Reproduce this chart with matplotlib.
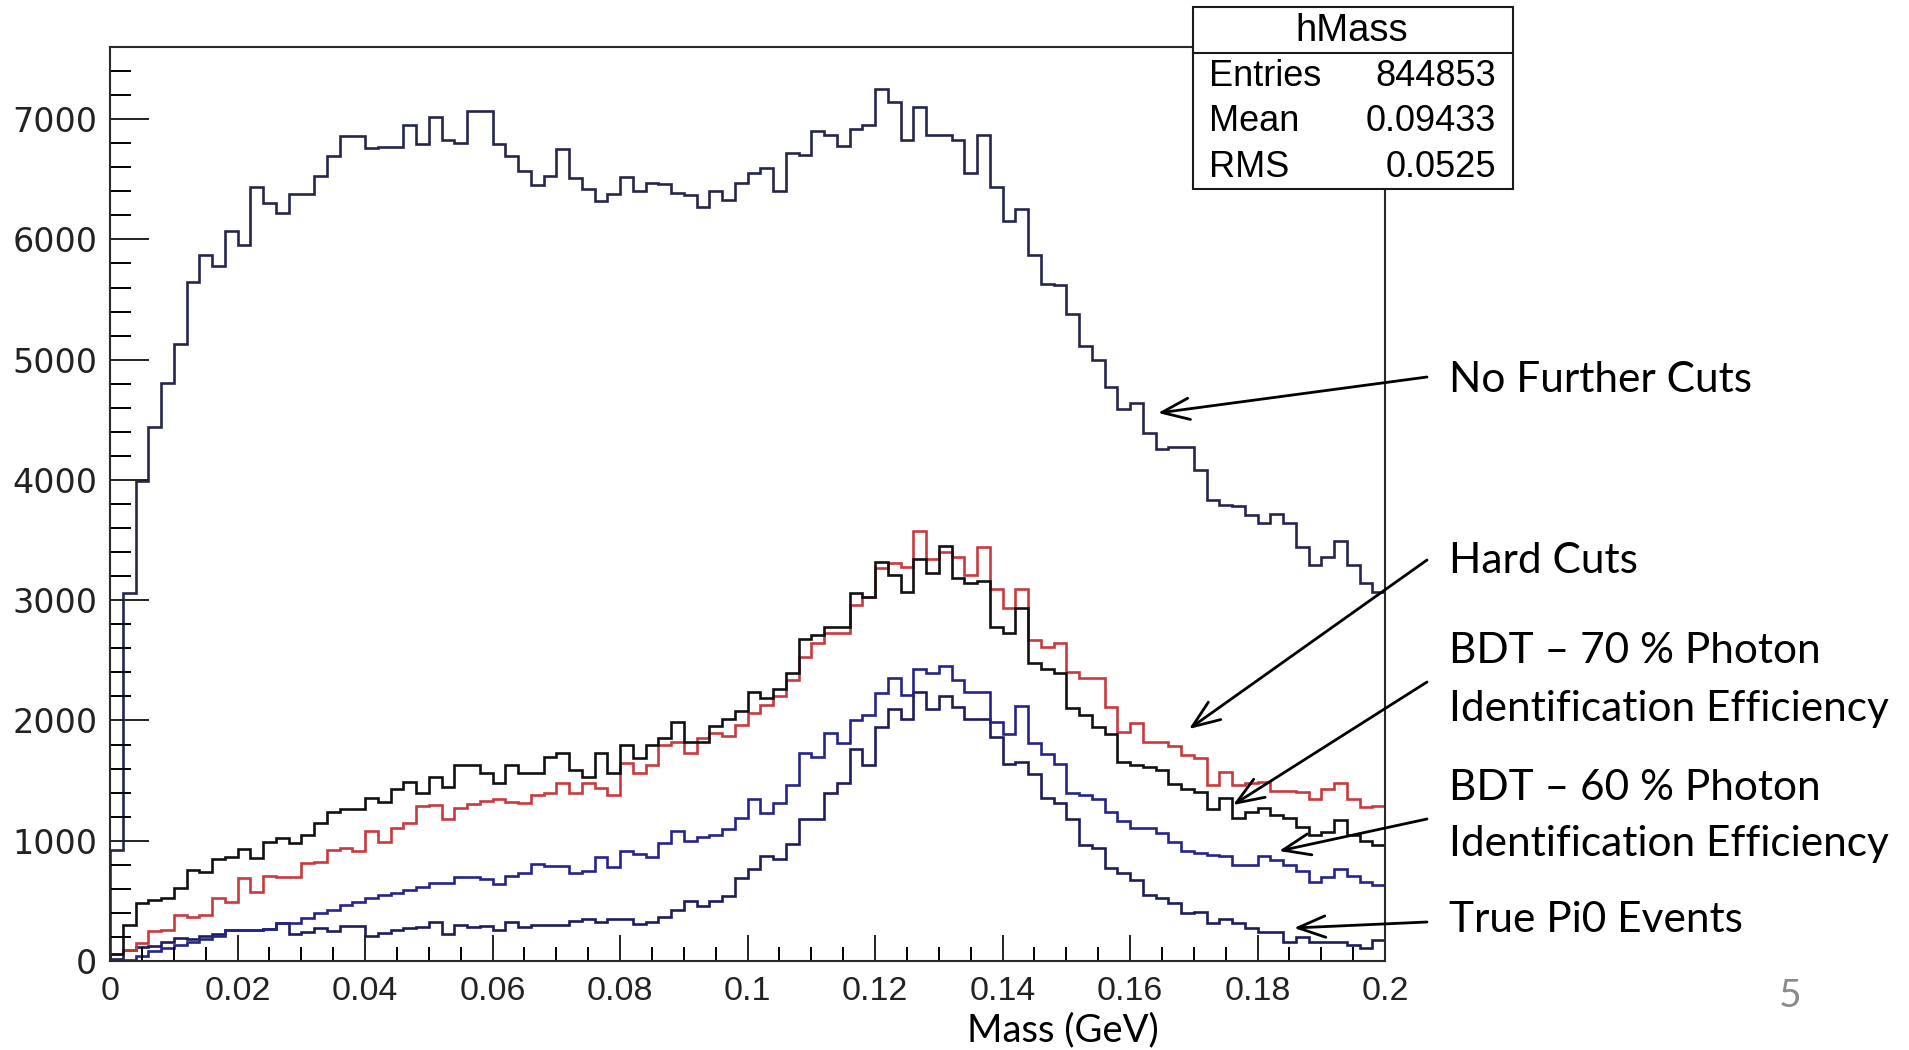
import numpy as np
import matplotlib.pyplot as plt
from matplotlib.patches import Rectangle
from matplotlib.lines import Line2D
from matplotlib.ticker import MultipleLocator

W, H = 1909, 1050

# 100 bins from 0 to 0.2 GeV
mass_edges = np.linspace(0.0, 0.2, 101)

no_cuts = [920, 3060, 3990, 4440, 4810, 5130, 5650, 5870, 5780, 6070,
           5950, 6440, 6300, 6220, 6380, 6380, 6530, 6690, 6860, 6860,
           6760, 6770, 6770, 6950, 6790, 7020, 6830, 6800, 7070, 7070,
           6790, 6690, 6570, 6450, 6525, 6750, 6510, 6420, 6320, 6380,
           6520, 6400, 6470, 6460, 6390, 6370, 6270, 6400, 6330, 6470,
           6550, 6590, 6400, 6720, 6700, 6900, 6870, 6780, 6920, 6950,
           7250, 7140, 6830, 7100, 6870, 6870, 6830, 6550, 6870, 6440,
           6150, 6250, 5870, 5630, 5620, 5380, 5110, 5000, 4770, 4590,
           4640, 4390, 4260, 4270, 4270, 4080, 3830, 3790, 3780, 3710,
           3640, 3720, 3640, 3440, 3290, 3360, 3490, 3290, 3140, 3070]

hard_cuts = [55, 95, 150, 250, 255, 382, 369, 382, 525, 490,
             690, 575, 705, 696, 696, 817, 826, 923, 937, 914,
             1083, 992, 1103, 1144, 1289, 1297, 1178, 1269, 1305, 1333,
             1344, 1325, 1311, 1380, 1394, 1477, 1394, 1477, 1435, 1380,
             1643, 1560, 1629, 1796, 1823, 1726, 1851, 1893, 1870, 1962,
             2059, 2128, 2203, 2336, 2530, 2641, 2724, 2724, 2959, 3029,
             3264, 3306, 3273, 3577, 3339, 3403, 3356, 3209, 3439, 3090,
             2932, 3090, 2668, 2613, 2641, 2405, 2350, 2350, 2109, 1906,
             1976, 1823, 1823, 1787, 1712, 1685, 1463, 1574, 1463, 1482,
             1491, 1416, 1416, 1408, 1344, 1427, 1477, 1344, 1277, 1289]

bdt_70 = [60, 299, 479, 505, 521, 605, 760, 743, 845, 867,
          928, 859, 992, 1025, 978, 1047, 1144, 1241, 1261, 1261,
          1358, 1325, 1427, 1491, 1394, 1532, 1449, 1629, 1629, 1560,
          1477, 1629, 1560, 1560, 1699, 1726, 1588, 1532, 1726, 1560,
          1796, 1685, 1796, 1851, 1990, 1823, 1823, 1954, 2009, 2081,
          2239, 2184, 2258, 2391, 2674, 2710, 2774, 2774, 3056, 3023,
          3320, 3209, 3070, 3339, 3223, 3450, 3181, 3140, 3162, 2779,
          2724, 2932, 2474, 2425, 2391, 2100, 2045, 1948, 1887, 1657,
          1629, 1610, 1588, 1471, 1427, 1408, 1261, 1352, 1186, 1241,
          1269, 1214, 1186, 1117, 1047, 1075, 1172, 1047, 1000, 964]

bdt_60 = [5, 12, 45, 85, 110, 135, 160, 185, 212, 258,
          258, 258, 262, 313, 320, 355, 396, 424, 466, 493,
          521, 549, 562, 590, 612, 646, 646, 696, 696, 679,
          640, 707, 729, 806, 793, 790, 729, 751, 862, 779,
          917, 889, 862, 984, 1083, 1000, 1028, 1047, 1094, 1186,
          1344, 1228, 1316, 1463, 1726, 1699, 1893, 1809, 2003, 2045,
          2231, 2350, 2211, 2425, 2397, 2452, 2336, 2239, 2239, 1990,
          1887, 2120, 1809, 1721, 1637, 1394, 1380, 1344, 1241, 1167,
          1103, 1103, 1061, 992, 917, 901, 881, 873, 798, 798,
          873, 840, 798, 751, 659, 701, 762, 707, 659, 632]

true_pi0 = [20, 88, 118, 128, 158, 195, 185, 205, 228, 258,
            258, 258, 262, 313, 224, 244, 272, 252, 291, 291,
            208, 236, 258, 272, 280, 327, 224, 299, 285, 291,
            258, 327, 280, 299, 299, 299, 335, 346, 327, 346,
            346, 308, 327, 369, 424, 502, 457, 502, 540, 687,
            762, 873, 845, 973, 1178, 1178, 1394, 1477, 1760, 1629,
            1942, 2092, 2009, 2239, 2092, 2203, 2109, 2009, 2009, 1865,
            1638, 1657, 1555, 1352, 1316, 1178, 964, 937, 770, 734,
            673, 549, 521, 479, 396, 410, 313, 346, 319, 272,
            244, 244, 161, 202, 161, 161, 161, 133, 105, 175]

x_ticks = [0, 0.02, 0.04, 0.06, 0.08, 0.1, 0.12, 0.14, 0.16, 0.18, 0.2]
x_tick_labels = ["0", "0.02", "0.04", "0.06", "0.08", "0.1",
                 "0.12", "0.14", "0.16", "0.18", "0.2"]
y_ticks = [0, 1000, 2000, 3000, 4000, 5000, 6000, 7000]

stats_rows = [("Entries", "844853"), ("Mean", "0.09433"), ("RMS", "0.0525")]

# annotation lines, their y positions, arrow start and tip (figure pixels from top-left)
notes = [
    (["No Further Cuts"], [380], (1427, 377), (1158, 413)),
    (["Hard Cuts"], [561], (1427, 560), (1189, 729)),
    (["BDT \u2013 70 % Photon", "Identification Efficiency"], [651, 709], (1427, 682), (1233, 805)),
    (["BDT \u2013 60 % Photon", "Identification Efficiency"], [788, 844], (1427, 819), (1279, 851)),
    (["True Pi0 Events"], [920], (1427, 922), (1294, 928)),
]


def fxy(x, y):
    return x / W, 1 - y / H


fig = plt.figure(figsize=(W / 100, H / 100), dpi=100)
ax = fig.add_axes([110 / W, 1 - 961 / H, 1275 / W, 914 / H])

lw = 1.9
ax.stairs(true_pi0, mass_edges, color="#1d1d5c", lw=lw)
ax.stairs(bdt_60, mass_edges, color="#24248c", lw=lw)
ax.stairs(hard_cuts, mass_edges, color="#c83a3e", lw=lw)
ax.stairs(bdt_70, mass_edges, color="#111111", lw=lw)
ax.stairs(no_cuts, mass_edges, color="#25254d", lw=lw)

ax.set_xlim(0, 0.2)
ax.set_ylim(0, 7600)

for s in ax.spines.values():
    s.set_linewidth(1.5)
    s.set_color("#2a2a2a")

ax.set_xticks(x_ticks)
ax.set_xticklabels(x_tick_labels, family="Liberation Sans", fontsize=24.5)
ax.set_yticks(y_ticks)
ax.set_yticklabels([str(v) for v in y_ticks], family="DejaVu Sans", fontsize=24)
ax.xaxis.set_minor_locator(MultipleLocator(0.005))
ax.yaxis.set_minor_locator(MultipleLocator(200))
ax.tick_params(axis="x", which="major", direction="in", length=19, width=1.4, pad=11, colors="#222222")
ax.tick_params(axis="x", which="minor", direction="in", length=10, width=1.4)
ax.tick_params(axis="y", which="major", direction="in", length=28, width=1.4, pad=9, colors="#222222")
ax.tick_params(axis="y", which="minor", direction="in", length=15, width=1.4)

fig.text(*fxy(1063, 1030), "Mass (GeV)", family="Lato", fontsize=27.5,
         ha="center", va="center")

# stats box
bx0, by0, bx1, by1 = 1193, 7, 1513, 189
fig.add_artist(Rectangle(fxy(bx0, by1), (bx1 - bx0) / W, (by1 - by0) / H,
                         transform=fig.transFigure, facecolor="white",
                         edgecolor="#1a1a1a", lw=1.5, zorder=10))
fig.add_artist(Line2D([bx0 / W, bx1 / W], [1 - 53 / H, 1 - 53 / H],
                      transform=fig.transFigure, color="#1a1a1a", lw=1.5, zorder=11))
fig.text(*fxy(1352, 31), "hMass", family="Liberation Sans", fontsize=27.5,
         ha="center", va="center", zorder=12)
for k, (name, val) in enumerate(stats_rows):
    yy = 76 + k * 45.5
    fig.text(*fxy(1209, yy), name, family="Liberation Sans", fontsize=26,
             ha="left", va="center", zorder=12)
    fig.text(*fxy(1496, yy), val, family="Liberation Sans", fontsize=26,
             ha="right", va="center", zorder=12)

# annotations with arrows
for lines, ys, start, tip in notes:
    for line, ty in zip(lines, ys):
        fig.text(*fxy(1449, ty), line, family="Lato", fontsize=30.5,
                 ha="left", va="center")
    ax.annotate("", xy=fxy(*tip), xycoords="figure fraction",
                xytext=fxy(*start), textcoords="figure fraction",
                arrowprops=dict(arrowstyle="->,head_length=0.9,head_width=0.35",
                                color="black", lw=2, shrinkA=0, shrinkB=0,
                                mutation_scale=22),
                annotation_clip=False)

fig.text(*fxy(1790, 996), "5", family="Lato", fontsize=28, color="#8a8a8a",
         ha="center", va="center")

fig.savefig("out.png", dpi=100)
